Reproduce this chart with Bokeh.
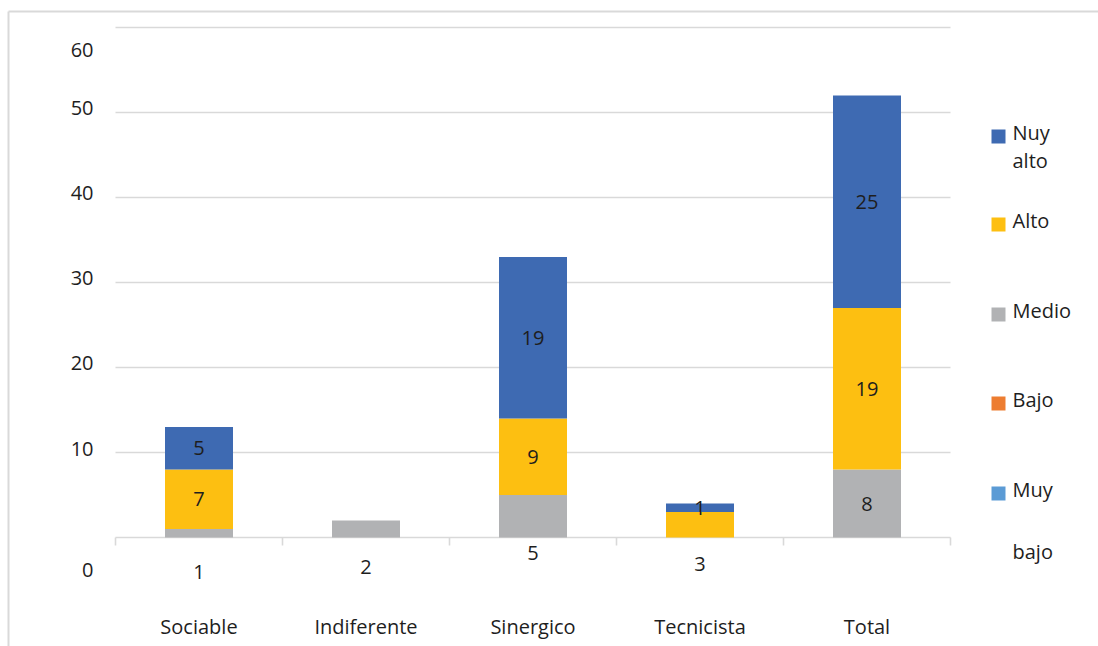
from bokeh.plotting import figure
from bokeh.models import Range1d, ColumnDataSource
from bokeh.core.properties import value
from bokeh.embed import file_html
from bokeh.resources import INLINE

# ---- data -------------------------------------------------------------
categories = ["Sociable", "Indiferente", "Sinergico", "Tecnicista", "Total"]
muy_bajo = [0, 0, 0, 0, 0]
bajo = [0, 0, 0, 0, 0]
medio = [1, 2, 5, 0, 8]
alto = [7, 0, 9, 3, 19]
muy_alto = [5, 0, 19, 1, 25]
y_ticks = [0, 10, 20, 30, 40, 50, 60]
legend_names = ["Nuy alto", "Alto", "Medio", "Bajo", "Muy bajo"]
# which series' value is printed under the axis for each category
below_axis_series = ["Medio", "Medio", "Medio", "Alto", None]

# ---- styling ----------------------------------------------------------
FONT = value("Open Sans")
TXT = "#1e1e1e"
LINE = "#d9d9d9"
COLORS = {
    "Muy bajo": "#5b9bd5",
    "Bajo": "#ed7d31",
    "Medio": "#b1b2b4",
    "Alto": "#fdbf11",
    "Muy alto": "#3e6ab2",
}

W, H = 1098, 646
PLOT_L, PLOT_R = 115, 950        # pixel columns of the category axis ends
AXIS_Y = 537                     # pixel row of value 0
PX_PER_UNIT = 8.5
CAT_W = (PLOT_R - PLOT_L) / len(categories)

x_range = Range1d(-PLOT_L / CAT_W, (W - PLOT_L) / CAT_W)
y_range = Range1d(-(H - AXIS_Y) / PX_PER_UNIT, AXIS_Y / PX_PER_UNIT)


def px_x(px):
    return x_range.start + px / CAT_W


def px_y(py):
    return (AXIS_Y - py) / PX_PER_UNIT


p = figure(width=W, height=H, x_range=x_range, y_range=y_range,
           x_axis_type=None, y_axis_type=None, toolbar_location=None,
           output_backend="svg", min_border=0)
p.outline_line_color = None
p.grid.visible = False
p.background_fill_color = "white"
p.border_fill_color = "white"

# frame lines (top and left)
p.segment(x0=[px_x(8), px_x(8)], y0=[px_y(11), px_y(11)],
          x1=[px_x(W), px_x(8)], y1=[px_y(11), px_y(H)],
          line_color=LINE, line_width=2)

# horizontal gridlines and the category axis
n = len(categories)
p.segment(x0=[0] * len(y_ticks), y0=y_ticks, x1=[n] * len(y_ticks), y1=y_ticks,
          line_color=LINE, line_width=1.6)
p.segment(x0=list(range(n + 1)), y0=[0] * (n + 1),
          x1=list(range(n + 1)), y1=[px_y(AXIS_Y + 8)] * (n + 1),
          line_color=LINE, line_width=1.6)

# stacked bars
stack_order = ["Muy bajo", "Bajo", "Medio", "Alto", "Muy alto"]
series_vals = {"Muy bajo": muy_bajo, "Bajo": bajo, "Medio": medio,
               "Alto": alto, "Muy alto": muy_alto}
xc = [i + 0.5 for i in range(n)]
src = ColumnDataSource(dict(x=xc, **series_vals))
p.vbar_stack(stack_order, x="x", width=68 / CAT_W, source=src,
             color=[COLORS[s] for s in stack_order], line_width=0)

# value labels inside the segments and under the axis
in_x, in_y, in_t = [], [], []
below_x, below_t = [], []
bottom = [0] * n
for s in stack_order:
    vals = series_vals[s]
    for i, v in enumerate(vals):
        if v > 0:
            if below_axis_series[i] == s:
                below_x.append(xc[i])
                below_t.append(str(v))
            else:
                in_x.append(xc[i])
                in_y.append(bottom[i] + v / 2)
                in_t.append(str(v))
        bottom[i] += v
p.text(x=in_x, y=in_y, text=in_t, text_font=FONT, text_font_size="20px",
       text_color=TXT, text_align="center", text_baseline="middle")
below_rows = [571, 566, 552, 563]
p.text(x=below_x, y=[px_y(r) for r in below_rows[:len(below_x)]], text=below_t,
       text_font=FONT, text_font_size="20px", text_color=TXT,
       text_align="center", text_baseline="middle")

# value axis labels
tick_nudge = [32, -4, -5, -5, -5, -5, 22]
p.text(x=[px_x(93)] * len(y_ticks),
       y=[px_y(AXIS_Y - t * PX_PER_UNIT + d) for t, d in zip(y_ticks, tick_nudge)],
       text=[str(t) for t in y_ticks], text_font=FONT, text_font_size="20px",
       text_color=TXT, text_align="right", text_baseline="middle")

# category labels
p.text(x=xc, y=[px_y(626)] * n, text=categories, text_font=FONT,
       text_font_size="20px", text_color=TXT, text_align="center",
       text_baseline="middle")

# legend
legend_series = ["Muy alto", "Alto", "Medio", "Bajo", "Muy bajo"]
legend_rows = [136, 224, 314, 403, 493]
line_gap = [28, 28, 28, 28, 62]
p.scatter(x=[px_x(998)] * len(legend_rows), y=[px_y(r) for r in legend_rows],
          marker="square", size=14, line_width=0,
          color=[COLORS[s] for s in legend_series])
lx, ly, lt = [], [], []
for name, r, g in zip(legend_names, legend_rows, line_gap):
    for k, word in enumerate(name.split(" ")):
        lx.append(px_x(1012))
        ly.append(px_y(r - 4 + k * g))
        lt.append(word)
p.text(x=lx, y=ly, text=lt, text_font=FONT, text_font_size="20px",
       text_color=TXT, text_align="left", text_baseline="middle")

open("out.html", "w").write(file_html(p, INLINE))
